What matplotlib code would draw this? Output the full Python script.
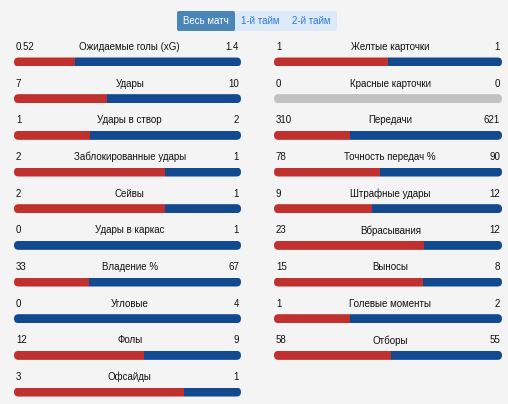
import matplotlib
matplotlib.use("Agg")
import matplotlib.pyplot as plt
from matplotlib.patches import FancyBboxPatch

# stats: left column
left_labels = ['Ожидаемые голы (xG)', 'Удары', 'Удары в створ', 'Заблокированные удары',
               'Сейвы', 'Удары в каркас', 'Владение %', 'Угловые', 'Фолы', 'Офсайды']
left_home = [0.52, 7, 1, 2, 2, 0, 33, 0, 12, 3]
left_away = [1.4, 10, 2, 1, 1, 1, 67, 4, 9, 1]

# stats: right column
right_labels = ['Желтые карточки', 'Красные карточки', 'Передачи', 'Точность передач %',
                'Штрафные удары', 'Вбрасывания', 'Выносы', 'Голевые моменты', 'Отборы']
right_home = [1, 0, 310, 78, 9, 23, 15, 1, 58]
right_away = [1, 0, 621, 90, 12, 12, 8, 2, 55]

tabs = ['Весь матч', '1-й тайм', '2-й тайм']

RED = '#c0302f'
BLUE = '#134a8f'
GREY = '#c1c1c1'
BG = '#f4f4f4'
TXT = '#111111'

W, H = 508, 404
fig = plt.figure(figsize=(W / 100, H / 100), dpi=100)
fig.patch.set_facecolor(BG)
plt.rcParams['font.family'] = ['Liberation Sans', 'DejaVu Sans']

ROW = 36.67      # px between rows
FIRST = 62       # px from top to first bar centre
BAR_H = 9 / ROW
FS = 7.0


def draw_column(x0, x1, labels, home, away):
    ax = fig.add_axes([x0 / W, 0, (x1 - x0) / W, 1])
    ax.set_xlim(0, 1)
    ax.set_ylim((H - FIRST) / ROW, -FIRST / ROW)
    ax.axis('off')
    px_x = 1 / (x1 - x0)
    px_y = 1 / ROW
    rx = 4.5 * px_x
    for i, (lab, h, a) in enumerate(zip(labels, home, away)):
        tot = h + a
        clip = FancyBboxPatch((0, i - BAR_H / 2), 1, BAR_H,
                              boxstyle=f'round,pad=0,rounding_size={rx}',
                              mutation_aspect=px_y / px_x,
                              transform=ax.transData)
        if tot == 0:
            bars = list(ax.barh([i], [1], height=BAR_H, color=GREY))
        else:
            frac = h / tot
            bars = list(ax.barh([i], [frac], height=BAR_H, color=RED))
            bars += list(ax.barh([i], [1 - frac], left=[frac], height=BAR_H, color=BLUE))
        for b in bars:
            b.set_clip_path(clip)
        ty = i - 15 / ROW
        ax.text(0.008, ty, f'{h:g}', ha='left', va='center', fontsize=FS, color=TXT)
        ax.text(0.992, ty, f'{a:g}', ha='right', va='center', fontsize=FS, color=TXT)
        ax.text(0.51, ty, lab, ha='center', va='center', fontsize=FS, color=TXT)


draw_column(14, 241, left_labels, left_home, left_away)
draw_column(274, 502, right_labels, right_home, right_away)

# tab switcher at the top
tab_ax = fig.add_axes([0, 0, 1, 1])
tab_ax.set_xlim(0, W)
tab_ax.set_ylim(H, 0)
tab_ax.axis('off')
tab_ax.add_patch(FancyBboxPatch((177, 11), 160, 20, boxstyle='round,pad=0,rounding_size=2',
                                fc='#dbe9f8', ec='none'))
tab_ax.add_patch(FancyBboxPatch((177, 11), 58, 20, boxstyle='round,pad=0,rounding_size=2',
                                fc='#4a86b8', ec='none'))
tab_x = [206, 260, 311]
for k, (t, x) in enumerate(zip(tabs, tab_x)):
    tab_ax.text(x, 21.5, t, ha='center', va='center', fontsize=7.0,
                color='white' if k == 0 else '#2a78dc')

fig.savefig('out.png', dpi=100, facecolor=BG)
